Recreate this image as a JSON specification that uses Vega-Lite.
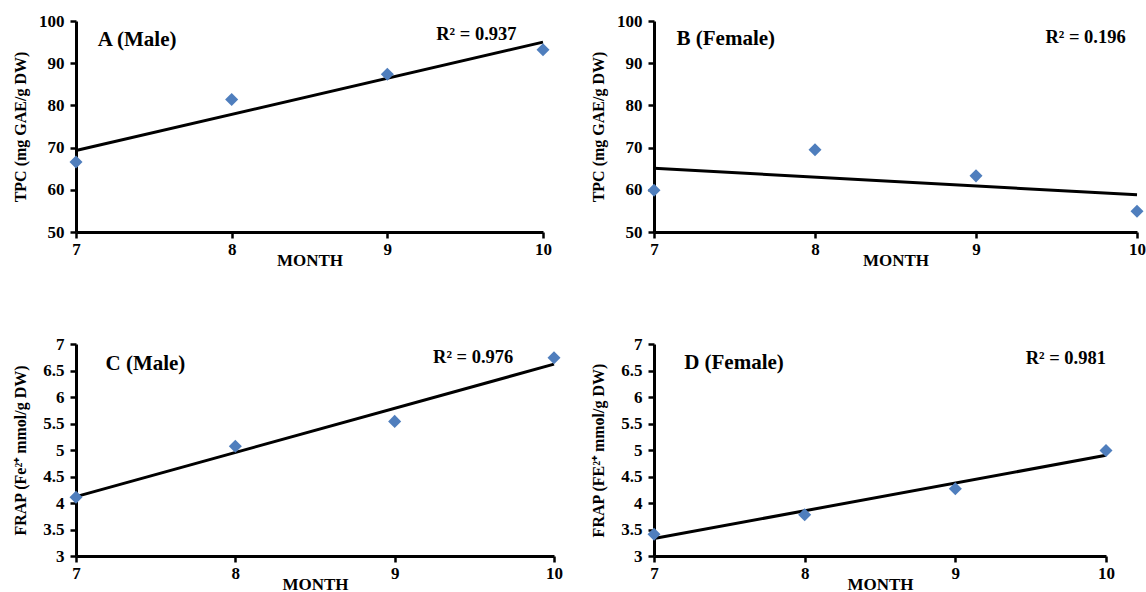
{
  "$schema": "https://vega.github.io/schema/vega-lite/v6.json",
  "background": "white",
  "padding": {"left": 12, "top": 12, "right": 5, "bottom": 5},
  "datasets": {
    "points": [
      {"panel": "A", "month": 7, "value": 66.6},
      {"panel": "A", "month": 8, "value": 81.4},
      {"panel": "A", "month": 9, "value": 87.4},
      {"panel": "A", "month": 10, "value": 93.2},
      {"panel": "B", "month": 7, "value": 59.9},
      {"panel": "B", "month": 8, "value": 69.5},
      {"panel": "B", "month": 9, "value": 63.3},
      {"panel": "B", "month": 10, "value": 54.9},
      {"panel": "C", "month": 7, "value": 4.11},
      {"panel": "C", "month": 8, "value": 5.07},
      {"panel": "C", "month": 9, "value": 5.54},
      {"panel": "C", "month": 10, "value": 6.74},
      {"panel": "D", "month": 7, "value": 3.41},
      {"panel": "D", "month": 8, "value": 3.78},
      {"panel": "D", "month": 9, "value": 4.27},
      {"panel": "D", "month": 10, "value": 4.99}
    ],
    "trend": [
      {"panel": "A", "month": 7, "fit": 69.3},
      {"panel": "A", "month": 10, "fit": 95.0},
      {"panel": "B", "month": 7, "fit": 65.1},
      {"panel": "B", "month": 10, "fit": 58.8},
      {"panel": "C", "month": 7, "fit": 4.12},
      {"panel": "C", "month": 10, "fit": 6.62},
      {"panel": "D", "month": 7, "fit": 3.33},
      {"panel": "D", "month": 10, "fit": 4.9}
    ]
  },
  "concat": [
    {
      "width": 467, "height": 211,
      "layer": [
        {
          "data": {"name": "trend"},
          "transform": [{"filter": "datum.panel === 'A'"}],
          "mark": {"type": "line", "color": "black", "strokeWidth": 3},
          "encoding": {
            "x": {"field": "month", "type": "quantitative", "scale": {"domain": [7, 10], "nice": false, "zero": false}, "axis": {"values": [7, 8, 9, 10], "title": "MONTH"}},
            "y": {"field": "fit", "type": "quantitative", "scale": {"domain": [50, 100], "nice": false, "zero": false}, "axis": {"values": [50, 60, 70, 80, 90, 100], "title": "TPC (mg GAE/g DW)"}}
          }
        },
        {
          "data": {"name": "points"},
          "transform": [{"filter": "datum.panel === 'A'"}],
          "mark": {"type": "point", "shape": "diamond", "filled": true, "size": 170, "color": "#4F7EBD", "opacity": 1},
          "encoding": {
            "x": {"field": "month", "type": "quantitative", "axis": {"values": [7, 8, 9, 10], "title": "MONTH"}},
            "y": {"field": "value", "type": "quantitative", "axis": {"values": [50, 60, 70, 80, 90, 100], "title": "TPC (mg GAE/g DW)"}}
          }
        },
        {
          "data": {"values": [{}]},
          "mark": {"type": "text", "align": "left", "baseline": "middle", "font": "Liberation Serif", "fontWeight": "bold", "fontSize": 21, "color": "black"},
          "encoding": {
            "x": {"datum": 7.14, "type": "quantitative", "axis": {"values": [7, 8, 9, 10], "title": "MONTH"}},
            "y": {"datum": 95.6, "type": "quantitative", "axis": {"values": [50, 60, 70, 80, 90, 100], "title": "TPC (mg GAE/g DW)"}},
            "text": {"value": "A (Male)"}
          }
        },
        {
          "data": {"values": [{}]},
          "mark": {"type": "text", "align": "right", "baseline": "middle", "font": "Liberation Serif", "fontWeight": "bold", "fontSize": 18.5, "color": "black"},
          "encoding": {
            "x": {"datum": 9.83, "type": "quantitative", "axis": {"values": [7, 8, 9, 10], "title": "MONTH"}},
            "y": {"datum": 97.0, "type": "quantitative", "axis": {"values": [50, 60, 70, 80, 90, 100], "title": "TPC (mg GAE/g DW)"}},
            "text": {"value": "R² = 0.937"}
          }
        }
      ]
    },
    {
      "width": 483, "height": 211,
      "layer": [
        {
          "data": {"name": "trend"},
          "transform": [{"filter": "datum.panel === 'B'"}],
          "mark": {"type": "line", "color": "black", "strokeWidth": 3},
          "encoding": {
            "x": {"field": "month", "type": "quantitative", "scale": {"domain": [7, 10], "nice": false, "zero": false}, "axis": {"values": [7, 8, 9, 10], "title": "MONTH"}},
            "y": {"field": "fit", "type": "quantitative", "scale": {"domain": [50, 100], "nice": false, "zero": false}, "axis": {"values": [50, 60, 70, 80, 90, 100], "title": "TPC (mg GAE/g DW)"}}
          }
        },
        {
          "data": {"name": "points"},
          "transform": [{"filter": "datum.panel === 'B'"}],
          "mark": {"type": "point", "shape": "diamond", "filled": true, "size": 170, "color": "#4F7EBD", "opacity": 1},
          "encoding": {
            "x": {"field": "month", "type": "quantitative", "axis": {"values": [7, 8, 9, 10], "title": "MONTH"}},
            "y": {"field": "value", "type": "quantitative", "axis": {"values": [50, 60, 70, 80, 90, 100], "title": "TPC (mg GAE/g DW)"}}
          }
        },
        {
          "data": {"values": [{}]},
          "mark": {"type": "text", "align": "left", "baseline": "middle", "font": "Liberation Serif", "fontWeight": "bold", "fontSize": 21, "color": "black"},
          "encoding": {
            "x": {"datum": 7.14, "type": "quantitative", "axis": {"values": [7, 8, 9, 10], "title": "MONTH"}},
            "y": {"datum": 95.8, "type": "quantitative", "axis": {"values": [50, 60, 70, 80, 90, 100], "title": "TPC (mg GAE/g DW)"}},
            "text": {"value": "B (Female)"}
          }
        },
        {
          "data": {"values": [{}]},
          "mark": {"type": "text", "align": "right", "baseline": "middle", "font": "Liberation Serif", "fontWeight": "bold", "fontSize": 18.5, "color": "black"},
          "encoding": {
            "x": {"datum": 9.93, "type": "quantitative", "axis": {"values": [7, 8, 9, 10], "title": "MONTH"}},
            "y": {"datum": 96.2, "type": "quantitative", "axis": {"values": [50, 60, 70, 80, 90, 100], "title": "TPC (mg GAE/g DW)"}},
            "text": {"value": "R² = 0.196"}
          }
        }
      ]
    },
    {
      "width": 478, "height": 212,
      "layer": [
        {
          "data": {"name": "trend"},
          "transform": [{"filter": "datum.panel === 'C'"}],
          "mark": {"type": "line", "color": "black", "strokeWidth": 3},
          "encoding": {
            "x": {"field": "month", "type": "quantitative", "scale": {"domain": [7, 10], "nice": false, "zero": false}, "axis": {"values": [7, 8, 9, 10], "title": "MONTH"}},
            "y": {"field": "fit", "type": "quantitative", "scale": {"domain": [3, 7], "nice": false, "zero": false}, "axis": {"values": [3, 3.5, 4, 4.5, 5, 5.5, 6, 6.5, 7], "title": "FRAP (Fe²⁺ mmol/g DW)"}}
          }
        },
        {
          "data": {"name": "points"},
          "transform": [{"filter": "datum.panel === 'C'"}],
          "mark": {"type": "point", "shape": "diamond", "filled": true, "size": 170, "color": "#4F7EBD", "opacity": 1},
          "encoding": {
            "x": {"field": "month", "type": "quantitative", "axis": {"values": [7, 8, 9, 10], "title": "MONTH"}},
            "y": {"field": "value", "type": "quantitative", "axis": {"values": [3, 3.5, 4, 4.5, 5, 5.5, 6, 6.5, 7], "title": "FRAP (Fe²⁺ mmol/g DW)"}}
          }
        },
        {
          "data": {"values": [{}]},
          "mark": {"type": "text", "align": "left", "baseline": "middle", "font": "Liberation Serif", "fontWeight": "bold", "fontSize": 21, "color": "black"},
          "encoding": {
            "x": {"datum": 7.185, "type": "quantitative", "axis": {"values": [7, 8, 9, 10], "title": "MONTH"}},
            "y": {"datum": 6.62, "type": "quantitative", "axis": {"values": [3, 3.5, 4, 4.5, 5, 5.5, 6, 6.5, 7], "title": "FRAP (Fe²⁺ mmol/g DW)"}},
            "text": {"value": "C (Male)"}
          }
        },
        {
          "data": {"values": [{}]},
          "mark": {"type": "text", "align": "right", "baseline": "middle", "font": "Liberation Serif", "fontWeight": "bold", "fontSize": 18.5, "color": "black"},
          "encoding": {
            "x": {"datum": 9.745, "type": "quantitative", "axis": {"values": [7, 8, 9, 10], "title": "MONTH"}},
            "y": {"datum": 6.75, "type": "quantitative", "axis": {"values": [3, 3.5, 4, 4.5, 5, 5.5, 6, 6.5, 7], "title": "FRAP (Fe²⁺ mmol/g DW)"}},
            "text": {"value": "R² = 0.976"}
          }
        }
      ]
    },
    {
      "width": 452, "height": 212,
      "layer": [
        {
          "data": {"name": "trend"},
          "transform": [{"filter": "datum.panel === 'D'"}],
          "mark": {"type": "line", "color": "black", "strokeWidth": 3},
          "encoding": {
            "x": {"field": "month", "type": "quantitative", "scale": {"domain": [7, 10], "nice": false, "zero": false}, "axis": {"values": [7, 8, 9, 10], "title": "MONTH"}},
            "y": {"field": "fit", "type": "quantitative", "scale": {"domain": [3, 7], "nice": false, "zero": false}, "axis": {"values": [3, 3.5, 4, 4.5, 5, 5.5, 6, 6.5, 7], "title": "FRAP (FE²⁺ mmol/g DW)"}}
          }
        },
        {
          "data": {"name": "points"},
          "transform": [{"filter": "datum.panel === 'D'"}],
          "mark": {"type": "point", "shape": "diamond", "filled": true, "size": 170, "color": "#4F7EBD", "opacity": 1},
          "encoding": {
            "x": {"field": "month", "type": "quantitative", "axis": {"values": [7, 8, 9, 10], "title": "MONTH"}},
            "y": {"field": "value", "type": "quantitative", "axis": {"values": [3, 3.5, 4, 4.5, 5, 5.5, 6, 6.5, 7], "title": "FRAP (FE²⁺ mmol/g DW)"}}
          }
        },
        {
          "data": {"values": [{}]},
          "mark": {"type": "text", "align": "left", "baseline": "middle", "font": "Liberation Serif", "fontWeight": "bold", "fontSize": 21, "color": "black"},
          "encoding": {
            "x": {"datum": 7.2, "type": "quantitative", "axis": {"values": [7, 8, 9, 10], "title": "MONTH"}},
            "y": {"datum": 6.65, "type": "quantitative", "axis": {"values": [3, 3.5, 4, 4.5, 5, 5.5, 6, 6.5, 7], "title": "FRAP (FE²⁺ mmol/g DW)"}},
            "text": {"value": "D (Female)"}
          }
        },
        {
          "data": {"values": [{}]},
          "mark": {"type": "text", "align": "right", "baseline": "middle", "font": "Liberation Serif", "fontWeight": "bold", "fontSize": 18.5, "color": "black"},
          "encoding": {
            "x": {"datum": 10.0, "type": "quantitative", "axis": {"values": [7, 8, 9, 10], "title": "MONTH"}},
            "y": {"datum": 6.73, "type": "quantitative", "axis": {"values": [3, 3.5, 4, 4.5, 5, 5.5, 6, 6.5, 7], "title": "FRAP (FE²⁺ mmol/g DW)"}},
            "text": {"value": "R² = 0.981"}
          }
        }
      ]
    }
  ],
  "columns": 2,
  "spacing": {"row": 112, "column": 100},
  "bounds": "flush",
  "config": {
    "view": {"stroke": null},
    "font": "Liberation Serif",
    "axis": {
      "grid": false,
      "domainColor": "black",
      "domainWidth": 3,
      "tickColor": "black",
      "tickWidth": 2.5,
      "tickSize": 6,
      "labelFont": "Liberation Serif",
      "labelFontWeight": "bold",
      "labelFontSize": 17,
      "labelColor": "black",
      "labelPadding": 3,
      "labelFlush": false,
      "labelOverlap": false,
      "format": ".1~f",
      "titleFont": "Liberation Serif",
      "titleFontWeight": "bold",
      "titleFontSize": 16,
      "titleColor": "black"
    },
    "axisX": {"titlePadding": -5, "titleFontSize": 17},
    "axisY": {"labelPadding": 6, "minExtent": 38, "maxExtent": 38, "titlePadding": 10}
  }
}
